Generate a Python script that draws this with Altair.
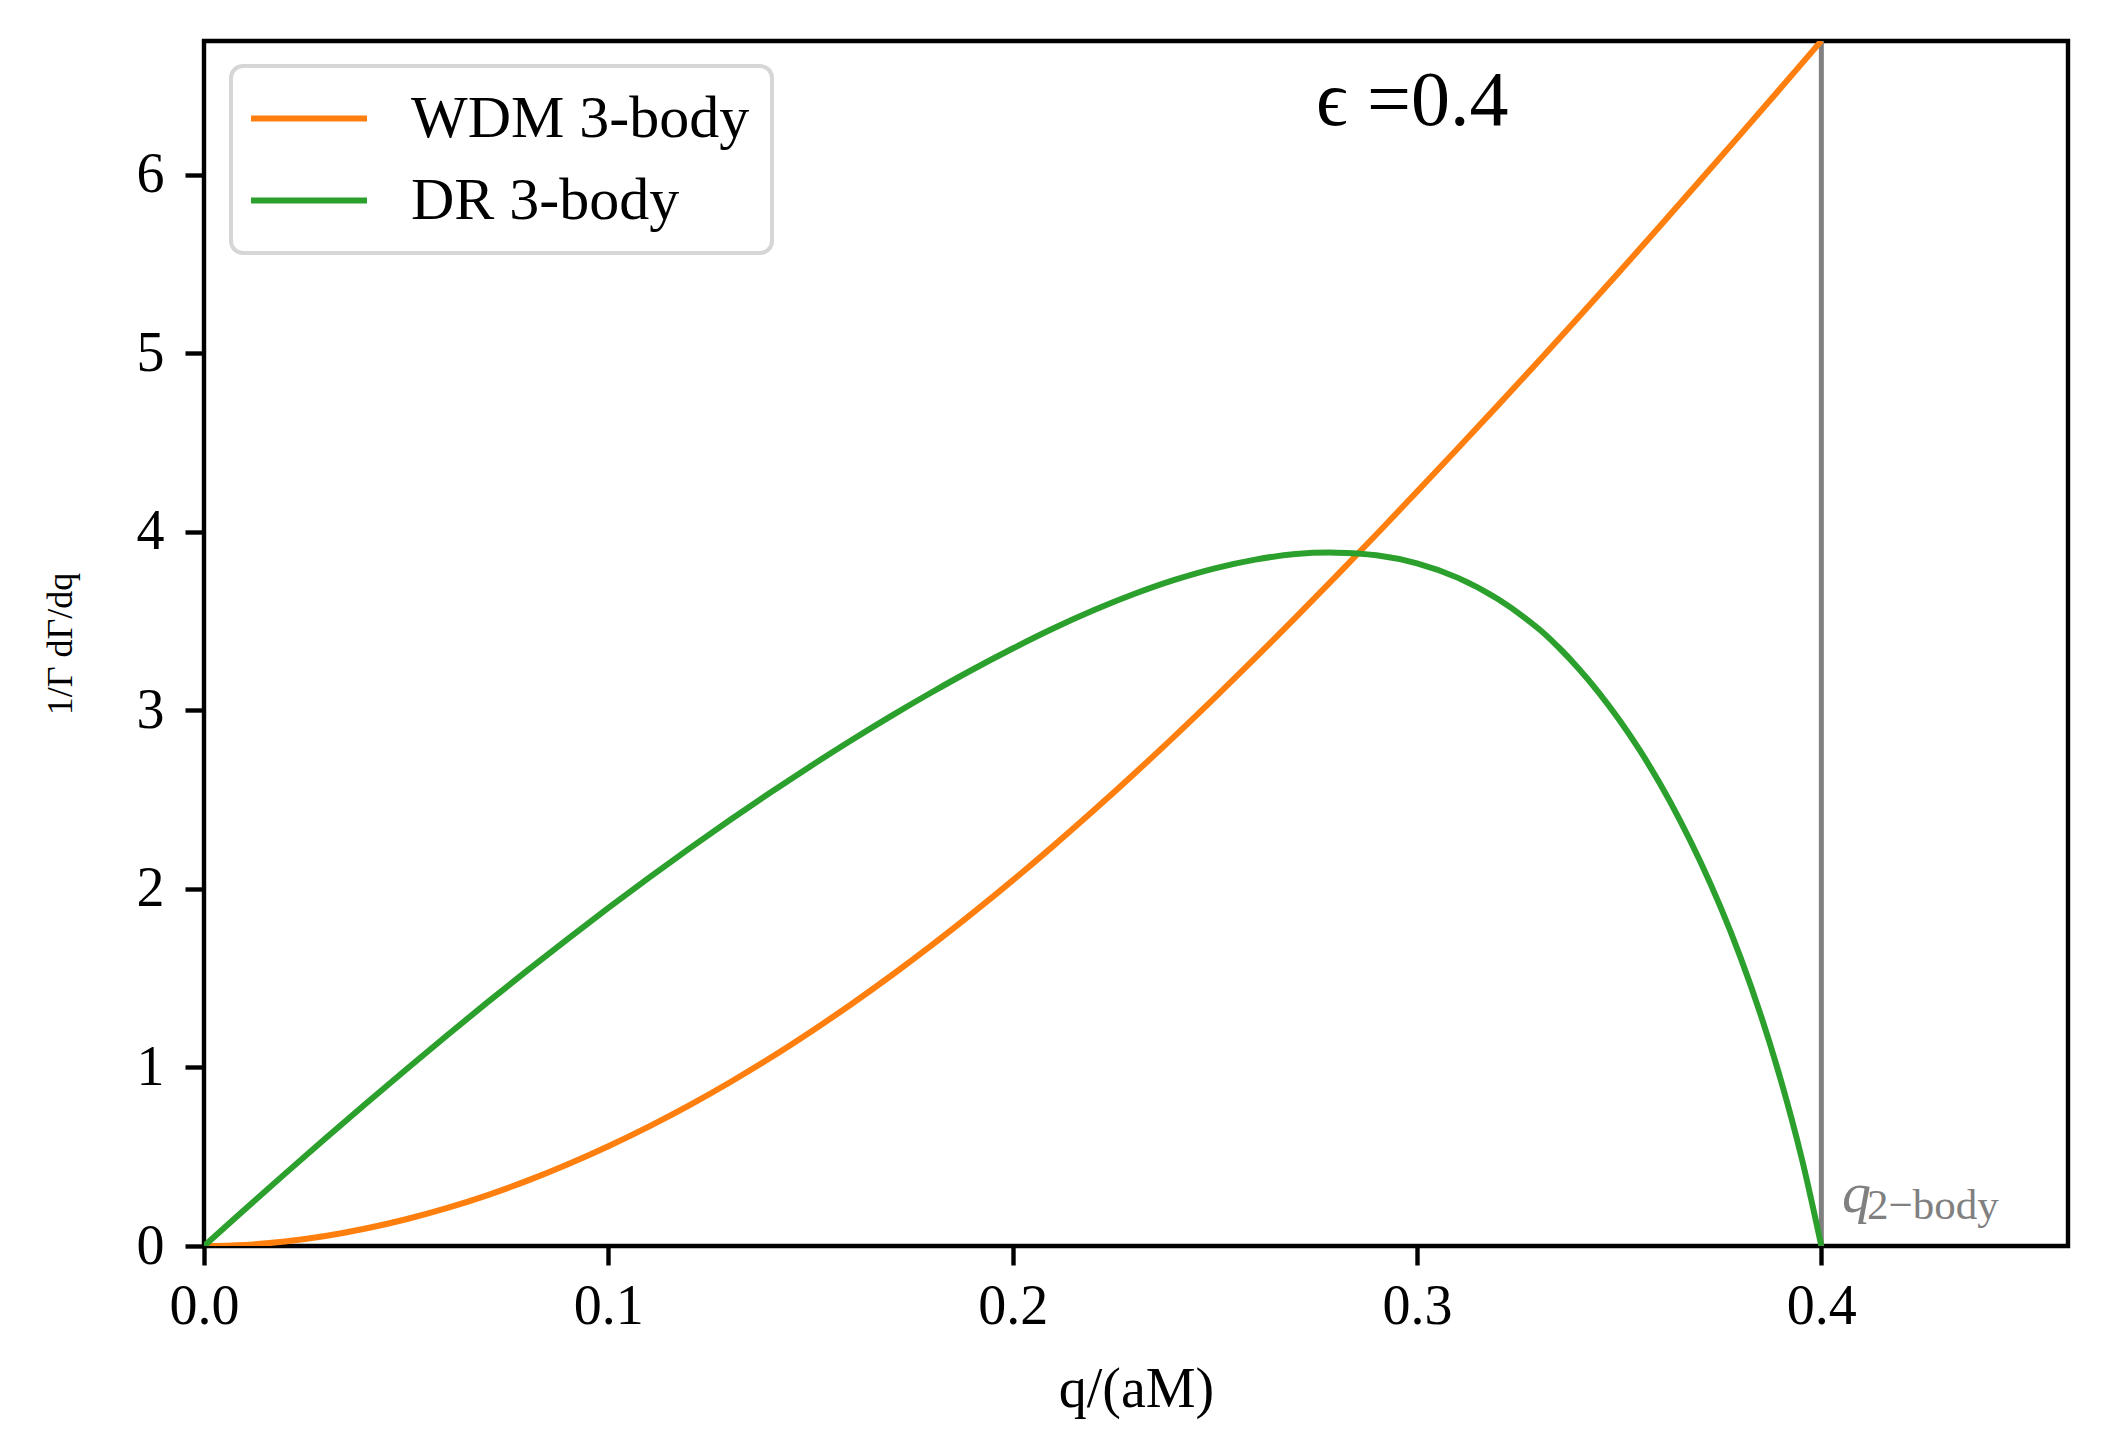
import altair as alt
import pandas as pd

# ---- data ----
Q_WDM = [0.00, 0.01, 0.02, 0.03, 0.04, 0.05, 0.06, 0.07, 0.08, 0.09,
         0.10, 0.11, 0.12, 0.13, 0.14, 0.15, 0.16, 0.17, 0.18, 0.19,
         0.20, 0.21, 0.22, 0.23, 0.24, 0.25, 0.26, 0.27, 0.28, 0.29,
         0.30, 0.31, 0.32, 0.33, 0.34, 0.35, 0.36, 0.37, 0.38, 0.39, 0.40]
WDM = [0.000, 0.006, 0.025, 0.056, 0.098, 0.150, 0.212, 0.284, 0.366, 0.458,
       0.559, 0.669, 0.788, 0.916, 1.053, 1.199, 1.353, 1.515, 1.685, 1.863,
       2.048, 2.240, 2.439, 2.644, 2.855, 3.072, 3.294, 3.521, 3.752, 3.987,
       4.226, 4.466, 4.709, 4.955, 5.204, 5.456, 5.711, 5.968, 6.227, 6.488, 6.751]

Q_DR = [0.00, 0.01, 0.02, 0.03, 0.04, 0.05, 0.06, 0.07, 0.08, 0.09,
        0.10, 0.11, 0.12, 0.13, 0.14, 0.15, 0.16, 0.17, 0.18, 0.19,
        0.20, 0.21, 0.22, 0.23, 0.24, 0.25, 0.26, 0.27, 0.28, 0.29,
        0.30, 0.31, 0.32, 0.33, 0.335, 0.34, 0.345, 0.35, 0.355, 0.36,
        0.365, 0.37, 0.375, 0.38, 0.385, 0.39, 0.395, 0.40]
DR = [0.000, 0.203, 0.404, 0.602, 0.797, 0.989, 1.178, 1.363, 1.544, 1.721,
      1.894, 2.062, 2.226, 2.385, 2.539, 2.688, 2.832, 2.970, 3.102, 3.228,
      3.347, 3.459, 3.561, 3.652, 3.731, 3.796, 3.845, 3.876, 3.884, 3.869,
      3.824, 3.744, 3.624, 3.459, 3.354, 3.234, 3.099, 2.948, 2.780, 2.593,
      2.386, 2.157, 1.902, 1.617, 1.295, 0.928, 0.505, 0.000]

SERIES = ["WDM 3-body", "DR 3-body"]
COLORS = ["#ff7f0e", "#2ca02c"]
X_TICKS = [0.0, 0.1, 0.2, 0.3, 0.4]
Y_TICKS = [0, 1, 2, 3, 4, 5, 6]
X_DOMAIN = [0.0, 0.461]
Y_DOMAIN = [0.0, 6.75]
Q_TWO_BODY = [0.4]

EPS_TEXT = ["ϵ =0.4"]
EPS_Q = [0.275]
EPS_Y = [6.28]
QLAB_TEXT = ["q"]
QLAB_Q = [0.4051]
QLAB_Y = [0.193]
SUB_TEXT = ["2−body"]
SUB_Q = [0.4113]
SUB_Y = [0.154]

FONT = "Liberation Serif"
GREY = "#808080"

df_lines = pd.concat([
    pd.DataFrame({"q": Q_WDM, "rate": WDM, "series": SERIES[0]}),
    pd.DataFrame({"q": Q_DR, "rate": DR, "series": SERIES[1]}),
], ignore_index=True)

x_scale = alt.Scale(domain=X_DOMAIN, nice=False, zero=False)
y_scale = alt.Scale(domain=Y_DOMAIN, nice=False, zero=False)

x_axis = alt.Axis(values=X_TICKS, format=".1f", title="q/(aM)", domain=False, grid=False,
                  tickSize=19, tickWidth=4.4, tickColor="black",
                  labelFont=FONT, labelFontSize=56, labelColor="black", labelPadding=14,
                  labelFlush=False, labelOverlap=False,
                  titleFont=FONT, titleFontSize=56, titleFontWeight="normal", titleColor="black",
                  titleY=160, titleBaseline="alphabetic")
y_axis = alt.Axis(values=Y_TICKS, format="d", title="1/Γ dΓ/dq", domain=False, grid=False,
                  tickSize=19, tickWidth=4.4, tickColor="black",
                  labelFont=FONT, labelFontSize=56, labelColor="black", labelPadding=21,
                  labelOverlap=False,
                  titleFont=FONT, titleFontSize=36, titleFontWeight="normal", titleColor="black",
                  titleX=-144, titleBaseline="middle")

legend = alt.Legend(title=None, orient="none", legendX=27, legendY=25, direction="vertical",
                    symbolType="M-3,0H3", symbolSize=1495, symbolStrokeWidth=6, symbolOffset=25.5,
                    labelFont=FONT, labelFontSize=60, labelColor="black", labelOffset=72,
                    labelLimit=0, rowPadding=22, padding=22.5,
                    fillColor="white", strokeColor="#d6d6d6", cornerRadius=12)

lines = alt.Chart(df_lines).mark_line(strokeWidth=6, interpolate="catmull-rom", clip=True).encode(
    x=alt.X("q:Q", scale=x_scale, axis=x_axis),
    y=alt.Y("rate:Q", scale=y_scale, axis=y_axis),
    color=alt.Color("series:N", scale=alt.Scale(domain=SERIES, range=COLORS), legend=legend,
                    sort=SERIES),
)

rule = alt.Chart(pd.DataFrame({"q": Q_TWO_BODY})).mark_rule(color=GREY, strokeWidth=5).encode(
    x=alt.X("q:Q", scale=x_scale)
)

eps = alt.Chart(pd.DataFrame({"q": EPS_Q, "rate": EPS_Y, "t": EPS_TEXT})).mark_text(
    align="left", baseline="alphabetic", font=FONT, fontSize=78, color="black"
).encode(x="q:Q", y="rate:Q", text="t:N")

qlab = alt.Chart(pd.DataFrame({"q": QLAB_Q, "rate": QLAB_Y, "t": QLAB_TEXT})).mark_text(
    align="left", baseline="alphabetic", font=FONT, fontSize=58, fontStyle="italic", color=GREY
).encode(x="q:Q", y="rate:Q", text="t:N")

sub = alt.Chart(pd.DataFrame({"q": SUB_Q, "rate": SUB_Y, "t": SUB_TEXT})).mark_text(
    align="left", baseline="alphabetic", font=FONT, fontSize=43, color=GREY
).encode(x="q:Q", y="rate:Q", text="t:N")

chart = alt.layer(rule, lines, eps, qlab, sub).properties(
    width=1864, height=1205,
    padding={"left": 196, "top": 33, "right": 24, "bottom": 195},
    autosize=alt.AutoSizeParams(type="none"),
    background="white",
).configure_view(stroke="black", strokeWidth=4.4).configure_legend(strokeWidth=4)

chart.save("out.html", embed_options={"renderer": "svg", "actions": False})
